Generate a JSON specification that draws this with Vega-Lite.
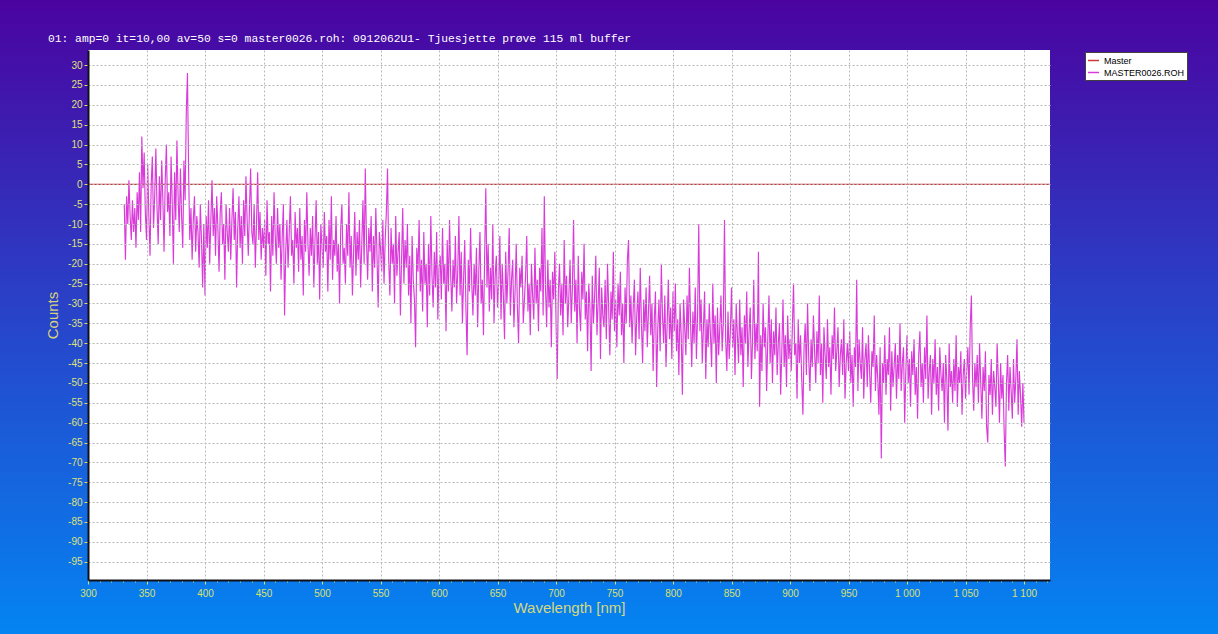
{
  "$schema": "https://vega.github.io/schema/vega-lite/v6.json",
  "width": 962,
  "height": 530,
  "autosize": {"type": "none"},
  "padding": {"left": 88, "top": 50, "right": 168, "bottom": 54},
  "background": "#2a40c8",
  "view": {
    "fill": null,
    "strokeWidth": 2600,
    "stroke": {
      "gradient": "linear",
      "x1": 0, "y1": -0.0943, "x2": 0, "y2": 1.1019,
      "stops": [
        {"offset": 0, "color": "#4b03a0"},
        {"offset": 1, "color": "#0484f2"}
      ]
    }
  },
  "title": {
    "text": "01: amp=0 it=10,00 av=50 s=0 master0026.roh: 0912062U1- Tjuesjette prøve 115 ml buffer",
    "anchor": "start",
    "frame": "group",
    "dx": -40,
    "offset": -3,
    "baseline": "alphabetic",
    "font": "Liberation Mono",
    "fontSize": 11.3,
    "fontWeight": "normal",
    "color": "#ffffff"
  },
  "config": {
    "axis": {"zindex": 1, "labelOverlap": false},
    "legend": {
      "orient": "none",
      "legendX": 997,
      "legendY": 2,
      "fillColor": "#ffffff",
      "strokeColor": "#404040",
      "padding": 2,
      "cornerRadius": 0,
      "labelFont": "Liberation Sans",
      "labelFontSize": 9,
      "labelColor": "#000000",
      "labelOffset": 4,
      "symbolType": "stroke",
      "symbolSize": 121,
      "symbolStrokeWidth": 1.5,
      "rowPadding": 0,
      "labelLimit": 200
    }
  },
  "encoding": {
    "x": {
      "field": "w",
      "type": "quantitative",
      "scale": {"domain": [300, 1122.2], "nice": false, "zero": false},
      "axis": {
        "zindex": 1,
        "values": [300,310,320,330,340,350,360,370,380,390,400,410,420,430,440,450,460,470,480,490,500,510,520,530,540,550,560,570,580,590,600,610,620,630,640,650,660,670,680,690,700,710,720,730,740,750,760,770,780,790,800,810,820,830,840,850,860,870,880,890,900,910,920,930,940,950,960,970,980,990,1000,1010,1020,1030,1040,1050,1060,1070,1080,1090,1100,1110,1120],
        "labelExpr": "datum.value % 50 === 0 ? replace(format(datum.value, ','), ',', ' ') : ''",
        "labelFlush": false,
        "grid": true,
        "gridColor": "#b8b8b8",
        "gridDash": [2, 2],
        "gridWidth": 1,
        "gridOpacity": {"condition": {"test": "datum.value % 50 !== 0", "value": 0}, "value": 1},
        "domainColor": "#101018",
        "domainWidth": 2,
        "tickColor": "#d8e070",
        "tickSize": {"condition": {"test": "datum.value % 50 !== 0", "value": 2}, "value": 4},
        "labelColor": "#d8e070",
        "labelFont": "Liberation Sans",
        "labelFontSize": 10,
        "labelPadding": 4,
        "title": "Wavelength [nm]",
        "titleColor": "#d4d880",
        "titleFont": "Liberation Sans",
        "titleFontSize": 15,
        "titleFontWeight": "normal",
        "titleBaseline": "middle",
        "titleY": 27
      }
    },
    "y": {
      "field": "c",
      "type": "quantitative",
      "scale": {"domain": [-99.6, 33.8], "nice": false, "zero": false},
      "axis": {
        "zindex": 1,
        "values": [30,25,20,15,10,5,0,-5,-10,-15,-20,-25,-30,-35,-40,-45,-50,-55,-60,-65,-70,-75,-80,-85,-90,-95],
        "labelExpr": "'' + datum.value",
        "grid": true,
        "gridColor": "#b8b8b8",
        "gridDash": [2, 2],
        "gridWidth": 1,
        "domainColor": "#101018",
        "domainWidth": 2,
        "tickColor": "#d8e070",
        "tickSize": 4,
        "labelColor": "#dfe07a",
        "labelFont": "Liberation Sans",
        "labelFontSize": 10,
        "labelPadding": 2,
        "title": "Counts",
        "titleColor": "#d8d080",
        "titleFont": "Liberation Sans",
        "titleFontSize": 15,
        "titleFontWeight": "normal",
        "titleAngle": 270,
        "titleBaseline": "middle",
        "titleAlign": "center",
        "titleX": -36,
        "titleY": 265
      }
    }
  },
  "layer": [
    {
      "data": {"values": [{}]},
      "mark": {"type": "rect", "fill": "#ffffff"},
      "encoding": {
        "x": {"value": 0},
        "x2": {"value": "width"},
        "y": {"value": 0},
        "y2": {"value": "height"}
      }
    },
    {
      "data": {"name": "master"},
      "mark": {"type": "line", "strokeWidth": 1.2, "clip": true},
      "encoding": {
        "color": {
          "datum": "Master",
          "scale": {"domain": ["Master", "MASTER0026.ROH"], "range": ["#cc3a3a", "#d93ad9"]},
          "legend": {"title": null}
        }
      }
    },
    {
      "data": {"name": "spec"},
      "mark": {"type": "line", "strokeWidth": 1.15, "clip": true},
      "encoding": {
        "color": {
          "datum": "MASTER0026.ROH",
          "scale": {"domain": ["Master", "MASTER0026.ROH"], "range": ["#cc3a3a", "#d93ad9"]},
          "legend": {"title": null}
        }
      }
    }
  ],
  "datasets": {
    "master": [{"w": 300, "c": 0}, {"w": 1122.2, "c": 0}],
    "spec": [
{"w":331,"c":-5},{"w":332,"c":-19},{"w":333,"c":-3},{"w":334,"c":-10},{"w":335,"c":1},{"w":336,"c":-8},{"w":337,"c":-14},{"w":338,"c":-4},{"w":339,"c":-12},{"w":340,"c":-6},
{"w":341,"c":-16},{"w":342,"c":-2},{"w":343,"c":-9},{"w":344,"c":3},{"w":345,"c":-12},{"w":346,"c":12},{"w":347,"c":-1},{"w":348,"c":8},{"w":349,"c":-7},{"w":350,"c":-14},
{"w":351,"c":5},{"w":352,"c":-8},{"w":353,"c":-18},{"w":354,"c":0},{"w":355,"c":7},{"w":356,"c":-11},{"w":357,"c":-3},{"w":358,"c":9},{"w":359,"c":-6},{"w":360,"c":-15},
{"w":361,"c":2},{"w":362,"c":-9},{"w":363,"c":6},{"w":364,"c":-4},{"w":365,"c":-17},{"w":366,"c":1},{"w":367,"c":10},{"w":368,"c":-7},{"w":369,"c":-2},{"w":370,"c":-13},
{"w":371,"c":7},{"w":372,"c":-5},{"w":373,"c":-20},{"w":374,"c":3},{"w":375,"c":-9},{"w":376,"c":11},{"w":377,"c":-3},{"w":378,"c":-12},{"w":379,"c":4},{"w":380,"c":-8},
{"w":381,"c":-16},{"w":382,"c":6},{"w":383,"c":-4},{"w":384,"c":18},{"w":385,"c":28},{"w":386,"c":3},{"w":387,"c":-14},{"w":388,"c":-6},{"w":389,"c":-19},{"w":390,"c":-9},
{"w":391,"c":-3},{"w":392,"c":-17},{"w":393,"c":-8},{"w":394,"c":-12},{"w":395,"c":-21},{"w":396,"c":-5},{"w":397,"c":-14},{"w":398,"c":-26},{"w":399,"c":-10},{"w":400,"c":-28},
{"w":401,"c":-8},{"w":402,"c":-16},{"w":403,"c":-4},{"w":404,"c":-20},{"w":405,"c":-9},{"w":406,"c":1},{"w":407,"c":-13},{"w":408,"c":-6},{"w":409,"c":-18},{"w":410,"c":-3},
{"w":411,"c":-11},{"w":412,"c":-22},{"w":413,"c":-7},{"w":414,"c":-2},{"w":415,"c":-15},{"w":416,"c":-10},{"w":417,"c":-24},{"w":418,"c":-5},{"w":419,"c":-12},{"w":420,"c":-17},
{"w":421,"c":-6},{"w":422,"c":-19},{"w":423,"c":-9},{"w":424,"c":-1},{"w":425,"c":-14},{"w":426,"c":-7},{"w":427,"c":-26},{"w":428,"c":-11},{"w":429,"c":-3},{"w":430,"c":-16},
{"w":431,"c":-8},{"w":432,"c":-20},{"w":433,"c":-4},{"w":434,"c":-13},{"w":435,"c":2},{"w":436,"c":-9},{"w":437,"c":-18},{"w":438,"c":-6},{"w":439,"c":4},{"w":440,"c":-12},
{"w":441,"c":-15},{"w":442,"c":-5},{"w":443,"c":-21},{"w":444,"c":-10},{"w":445,"c":3},{"w":446,"c":-14},{"w":447,"c":-7},{"w":448,"c":-19},{"w":449,"c":-11},{"w":450,"c":-16},
{"w":451,"c":-9},{"w":452,"c":-23},{"w":453,"c":-4},{"w":454,"c":-15},{"w":455,"c":-12},{"w":456,"c":-27},{"w":457,"c":-8},{"w":458,"c":-18},{"w":459,"c":-2},{"w":460,"c":-13},
{"w":461,"c":-20},{"w":462,"c":-6},{"w":463,"c":-16},{"w":464,"c":-10},{"w":465,"c":-24},{"w":466,"c":-13},{"w":467,"c":-5},{"w":468,"c":-33},{"w":469,"c":-17},{"w":470,"c":-9},
{"w":471,"c":-21},{"w":472,"c":-12},{"w":473,"c":-3},{"w":474,"c":-18},{"w":475,"c":-14},{"w":476,"c":-25},{"w":477,"c":-7},{"w":478,"c":-16},{"w":479,"c":-11},{"w":480,"c":-22},
{"w":481,"c":-6},{"w":482,"c":-19},{"w":483,"c":-13},{"w":484,"c":-28},{"w":485,"c":-9},{"w":486,"c":-17},{"w":487,"c":-2},{"w":488,"c":-15},{"w":489,"c":-23},{"w":490,"c":-11},
{"w":491,"c":-18},{"w":492,"c":-8},{"w":493,"c":-26},{"w":494,"c":-14},{"w":495,"c":-4},{"w":496,"c":-20},{"w":497,"c":-12},{"w":498,"c":-29},{"w":499,"c":-10},{"w":500,"c":-16},
{"w":501,"c":-21},{"w":502,"c":-7},{"w":503,"c":-17},{"w":504,"c":-13},{"w":505,"c":-27},{"w":506,"c":-9},{"w":507,"c":-19},{"w":508,"c":-3},{"w":509,"c":-24},{"w":510,"c":-14},
{"w":511,"c":-18},{"w":512,"c":-8},{"w":513,"c":-22},{"w":514,"c":-15},{"w":515,"c":-30},{"w":516,"c":-11},{"w":517,"c":-5},{"w":518,"c":-20},{"w":519,"c":-16},{"w":520,"c":-25},
{"w":521,"c":-10},{"w":522,"c":-18},{"w":523,"c":-2},{"w":524,"c":-21},{"w":525,"c":-13},{"w":526,"c":-28},{"w":527,"c":-17},{"w":528,"c":-7},{"w":529,"c":-23},{"w":530,"c":-12},
{"w":531,"c":-19},{"w":532,"c":-9},{"w":533,"c":-26},{"w":534,"c":-15},{"w":535,"c":-4},{"w":536,"c":-20},{"w":537,"c":4},{"w":538,"c":-14},{"w":539,"c":-24},{"w":540,"c":-11},
{"w":541,"c":-17},{"w":542,"c":-8},{"w":543,"c":-27},{"w":544,"c":-13},{"w":545,"c":-21},{"w":546,"c":-6},{"w":547,"c":-18},{"w":548,"c":-31},{"w":549,"c":-12},{"w":550,"c":-16},
{"w":551,"c":-22},{"w":552,"c":-9},{"w":553,"c":-25},{"w":554,"c":-14},{"w":555,"c":-7},{"w":556,"c":4},{"w":557,"c":-19},{"w":558,"c":-28},{"w":559,"c":-11},{"w":560,"c":-20},
{"w":561,"c":-15},{"w":562,"c":-30},{"w":563,"c":-8},{"w":564,"c":-23},{"w":565,"c":-17},{"w":566,"c":-12},{"w":567,"c":-33},{"w":568,"c":-19},{"w":569,"c":-6},{"w":570,"c":-25},
{"w":571,"c":-14},{"w":572,"c":-21},{"w":573,"c":-10},{"w":574,"c":-28},{"w":575,"c":-18},{"w":576,"c":-35},{"w":577,"c":-13},{"w":578,"c":-24},{"w":579,"c":-29},{"w":580,"c":-41},
{"w":581,"c":-16},{"w":582,"c":-22},{"w":583,"c":-9},{"w":584,"c":-27},{"w":585,"c":-19},{"w":586,"c":-32},{"w":587,"c":-12},{"w":588,"c":-25},{"w":589,"c":-20},{"w":590,"c":-36},
{"w":591,"c":-15},{"w":592,"c":-28},{"w":593,"c":-8},{"w":594,"c":-23},{"w":595,"c":-31},{"w":596,"c":-17},{"w":597,"c":-26},{"w":598,"c":-12},{"w":599,"c":-34},{"w":600,"c":-21},
{"w":601,"c":-18},{"w":602,"c":-29},{"w":603,"c":-11},{"w":604,"c":-25},{"w":605,"c":-20},{"w":606,"c":-37},{"w":607,"c":-14},{"w":608,"c":-27},{"w":609,"c":-9},{"w":610,"c":-23},
{"w":611,"c":-32},{"w":612,"c":-19},{"w":613,"c":-26},{"w":614,"c":-13},{"w":615,"c":-30},{"w":616,"c":-22},{"w":617,"c":-8},{"w":618,"c":-28},{"w":619,"c":-17},{"w":620,"c":-35},
{"w":621,"c":-24},{"w":622,"c":-14},{"w":623,"c":-31},{"w":624,"c":-43},{"w":625,"c":-19},{"w":626,"c":-27},{"w":627,"c":-11},{"w":628,"c":-25},{"w":629,"c":-33},{"w":630,"c":-20},
{"w":631,"c":-28},{"w":632,"c":-16},{"w":633,"c":-36},{"w":634,"c":-22},{"w":635,"c":-12},{"w":636,"c":-30},{"w":637,"c":-24},{"w":638,"c":-38},{"w":639,"c":-18},{"w":640,"c":-1},
{"w":641,"c":-26},{"w":642,"c":-15},{"w":643,"c":-32},{"w":644,"c":-21},{"w":645,"c":-29},{"w":646,"c":-10},{"w":647,"c":-35},{"w":648,"c":-23},{"w":649,"c":-18},{"w":650,"c":-31},
{"w":651,"c":-25},{"w":652,"c":-13},{"w":653,"c":-34},{"w":654,"c":-20},{"w":655,"c":-28},{"w":656,"c":-39},{"w":657,"c":-17},{"w":658,"c":-30},{"w":659,"c":-22},{"w":660,"c":-11},
{"w":661,"c":-33},{"w":662,"c":-24},{"w":663,"c":-19},{"w":664,"c":-36},{"w":665,"c":-27},{"w":666,"c":-15},{"w":667,"c":-31},{"w":668,"c":-40},{"w":669,"c":-21},{"w":670,"c":-26},
{"w":671,"c":-18},{"w":672,"c":-35},{"w":673,"c":-29},{"w":674,"c":-23},{"w":675,"c":-13},{"w":676,"c":-32},{"w":677,"c":-25},{"w":678,"c":-38},{"w":679,"c":-20},{"w":680,"c":-28},
{"w":681,"c":-34},{"w":682,"c":-16},{"w":683,"c":-30},{"w":684,"c":-24},{"w":685,"c":-37},{"w":686,"c":-21},{"w":687,"c":-27},{"w":688,"c":-11},{"w":689,"c":-33},{"w":690,"c":-3},
{"w":691,"c":-26},{"w":692,"c":-36},{"w":693,"c":-19},{"w":694,"c":-31},{"w":695,"c":-24},{"w":696,"c":-41},{"w":697,"c":-22},{"w":698,"c":-29},{"w":699,"c":-17},{"w":700,"c":-34},
{"w":701,"c":-49},{"w":702,"c":-27},{"w":703,"c":-20},{"w":704,"c":-33},{"w":705,"c":-25},{"w":706,"c":-38},{"w":707,"c":-14},{"w":708,"c":-30},{"w":709,"c":-23},{"w":710,"c":-36},
{"w":711,"c":-28},{"w":712,"c":-19},{"w":713,"c":-35},{"w":714,"c":-26},{"w":715,"c":-9},{"w":716,"c":-32},{"w":717,"c":-24},{"w":718,"c":-40},{"w":719,"c":-18},{"w":720,"c":-31},
{"w":721,"c":-37},{"w":722,"c":-22},{"w":723,"c":-29},{"w":724,"c":-15},{"w":725,"c":-34},{"w":726,"c":-27},{"w":727,"c":-42},{"w":728,"c":-25},{"w":729,"c":-31},{"w":730,"c":-47},
{"w":731,"c":-23},{"w":732,"c":-35},{"w":733,"c":-28},{"w":734,"c":-18},{"w":735,"c":-38},{"w":736,"c":-30},{"w":737,"c":-21},{"w":738,"c":-44},{"w":739,"c":-26},{"w":740,"c":-33},
{"w":741,"c":-36},{"w":742,"c":-24},{"w":743,"c":-39},{"w":744,"c":-20},{"w":745,"c":-31},{"w":746,"c":-43},{"w":747,"c":-27},{"w":748,"c":-34},{"w":749,"c":-17},{"w":750,"c":-37},
{"w":751,"c":-29},{"w":752,"c":-41},{"w":753,"c":-25},{"w":754,"c":-33},{"w":755,"c":-22},{"w":756,"c":-38},{"w":757,"c":-30},{"w":758,"c":-45},{"w":759,"c":-26},{"w":760,"c":-35},
{"w":761,"c":-19},{"w":762,"c":-14},{"w":763,"c":-36},{"w":764,"c":-28},{"w":765,"c":-40},{"w":766,"c":-31},{"w":767,"c":-24},{"w":768,"c":-43},{"w":769,"c":-33},{"w":770,"c":-27},
{"w":771,"c":-39},{"w":772,"c":-21},{"w":773,"c":-35},{"w":774,"c":-45},{"w":775,"c":-29},{"w":776,"c":-37},{"w":777,"c":-26},{"w":778,"c":-41},{"w":779,"c":-32},{"w":780,"c":-23},
{"w":781,"c":-38},{"w":782,"c":-30},{"w":783,"c":-47},{"w":784,"c":-34},{"w":785,"c":-27},{"w":786,"c":-51},{"w":787,"c":-36},{"w":788,"c":-29},{"w":789,"c":-42},{"w":790,"c":-20},
{"w":791,"c":-33},{"w":792,"c":-40},{"w":793,"c":-28},{"w":794,"c":-46},{"w":795,"c":-35},{"w":796,"c":-24},{"w":797,"c":-39},{"w":798,"c":-31},{"w":799,"c":-44},{"w":800,"c":-27},
{"w":801,"c":-37},{"w":802,"c":-25},{"w":803,"c":-42},{"w":804,"c":-34},{"w":805,"c":-48},{"w":806,"c":-30},{"w":807,"c":-38},{"w":808,"c":-53},{"w":809,"c":-29},{"w":810,"c":-36},
{"w":811,"c":-43},{"w":812,"c":-28},{"w":813,"c":-39},{"w":814,"c":-21},{"w":815,"c":-35},{"w":816,"c":-46},{"w":817,"c":-32},{"w":818,"c":-40},{"w":819,"c":-26},{"w":820,"c":-44},
{"w":821,"c":-33},{"w":822,"c":-10},{"w":823,"c":-37},{"w":824,"c":-29},{"w":825,"c":-45},{"w":826,"c":-36},{"w":827,"c":-27},{"w":828,"c":-49},{"w":829,"c":-34},{"w":830,"c":-41},
{"w":831,"c":-30},{"w":832,"c":-38},{"w":833,"c":-46},{"w":834,"c":-25},{"w":835,"c":-40},{"w":836,"c":-33},{"w":837,"c":-50},{"w":838,"c":-31},{"w":839,"c":-43},{"w":840,"c":-36},
{"w":841,"c":-28},{"w":842,"c":-42},{"w":843,"c":-35},{"w":844,"c":-9},{"w":845,"c":-39},{"w":846,"c":-47},{"w":847,"c":-32},{"w":848,"c":-44},{"w":849,"c":-37},{"w":850,"c":-26},
{"w":851,"c":-41},{"w":852,"c":-34},{"w":853,"c":-48},{"w":854,"c":-30},{"w":855,"c":-38},{"w":856,"c":-45},{"w":857,"c":-29},{"w":858,"c":-43},{"w":859,"c":-36},{"w":860,"c":-51},
{"w":861,"c":-33},{"w":862,"c":-40},{"w":863,"c":-27},{"w":864,"c":-46},{"w":865,"c":-37},{"w":866,"c":-31},{"w":867,"c":-49},{"w":868,"c":-39},{"w":869,"c":-24},{"w":870,"c":-44},
{"w":871,"c":-35},{"w":872,"c":-42},{"w":873,"c":-17},{"w":874,"c":-56},{"w":875,"c":-38},{"w":876,"c":-47},{"w":877,"c":-30},{"w":878,"c":-41},{"w":879,"c":-36},{"w":880,"c":-52},
{"w":881,"c":-39},{"w":882,"c":-28},{"w":883,"c":-45},{"w":884,"c":-34},{"w":885,"c":-50},{"w":886,"c":-37},{"w":887,"c":-43},{"w":888,"c":-31},{"w":889,"c":-48},{"w":890,"c":-40},
{"w":891,"c":-35},{"w":892,"c":-53},{"w":893,"c":-42},{"w":894,"c":-29},{"w":895,"c":-46},{"w":896,"c":-38},{"w":897,"c":-51},{"w":898,"c":-33},{"w":899,"c":-44},{"w":900,"c":-39},
{"w":901,"c":-47},{"w":902,"c":-36},{"w":903,"c":-25},{"w":904,"c":-43},{"w":905,"c":-40},{"w":906,"c":-54},{"w":907,"c":-34},{"w":908,"c":-45},{"w":909,"c":-38},{"w":910,"c":-49},
{"w":911,"c":-58},{"w":912,"c":-41},{"w":913,"c":-35},{"w":914,"c":-48},{"w":915,"c":-30},{"w":916,"c":-44},{"w":917,"c":-52},{"w":918,"c":-39},{"w":919,"c":-46},{"w":920,"c":-33},
{"w":921,"c":-42},{"w":922,"c":-50},{"w":923,"c":-37},{"w":924,"c":-45},{"w":925,"c":-28},{"w":926,"c":-48},{"w":927,"c":-40},{"w":928,"c":-55},{"w":929,"c":-36},{"w":930,"c":-43},
{"w":931,"c":-49},{"w":932,"c":-34},{"w":933,"c":-46},{"w":934,"c":-41},{"w":935,"c":-53},{"w":936,"c":-38},{"w":937,"c":-44},{"w":938,"c":-31},{"w":939,"c":-47},{"w":940,"c":-42},
{"w":941,"c":-36},{"w":942,"c":-51},{"w":943,"c":-43},{"w":944,"c":-39},{"w":945,"c":-48},{"w":946,"c":-34},{"w":947,"c":-54},{"w":948,"c":-45},{"w":949,"c":-40},{"w":950,"c":-47},
{"w":951,"c":-37},{"w":952,"c":-50},{"w":953,"c":-43},{"w":954,"c":-56},{"w":955,"c":-41},{"w":956,"c":-46},{"w":957,"c":-24},{"w":958,"c":-52},{"w":959,"c":-39},{"w":960,"c":-45},
{"w":961,"c":-49},{"w":962,"c":-36},{"w":963,"c":-54},{"w":964,"c":-44},{"w":965,"c":-40},{"w":966,"c":-51},{"w":967,"c":-38},{"w":968,"c":-47},{"w":969,"c":-55},{"w":970,"c":-42},
{"w":971,"c":-46},{"w":972,"c":-33},{"w":973,"c":-52},{"w":974,"c":-43},{"w":975,"c":-49},{"w":976,"c":-58},{"w":977,"c":-41},{"w":978,"c":-69},{"w":979,"c":-45},{"w":980,"c":-50},
{"w":981,"c":-38},{"w":982,"c":-53},{"w":983,"c":-44},{"w":984,"c":-48},{"w":985,"c":-36},{"w":986,"c":-57},{"w":987,"c":-42},{"w":988,"c":-51},{"w":989,"c":-46},{"w":990,"c":-40},
{"w":991,"c":-54},{"w":992,"c":-43},{"w":993,"c":-49},{"w":994,"c":-35},{"w":995,"c":-52},{"w":996,"c":-45},{"w":997,"c":-41},{"w":998,"c":-60},{"w":999,"c":-47},{"w":1000,"c":-38},
{"w":1001,"c":-50},{"w":1002,"c":-44},{"w":1003,"c":-56},{"w":1004,"c":-42},{"w":1005,"c":-48},{"w":1006,"c":-39},{"w":1007,"c":-53},{"w":1008,"c":-46},{"w":1009,"c":-59},{"w":1010,"c":-43},
{"w":1011,"c":-37},{"w":1012,"c":-51},{"w":1013,"c":-45},{"w":1014,"c":-55},{"w":1015,"c":-41},{"w":1016,"c":-49},{"w":1017,"c":-33},{"w":1018,"c":-54},{"w":1019,"c":-47},{"w":1020,"c":-43},
{"w":1021,"c":-58},{"w":1022,"c":-44},{"w":1023,"c":-50},{"w":1024,"c":-39},{"w":1025,"c":-53},{"w":1026,"c":-46},{"w":1027,"c":-57},{"w":1028,"c":-41},{"w":1029,"c":-48},{"w":1030,"c":-52},
{"w":1031,"c":-45},{"w":1032,"c":-60},{"w":1033,"c":-43},{"w":1034,"c":-49},{"w":1035,"c":-62},{"w":1036,"c":-40},{"w":1037,"c":-51},{"w":1038,"c":-47},{"w":1039,"c":-55},{"w":1040,"c":-44},
{"w":1041,"c":-52},{"w":1042,"c":-38},{"w":1043,"c":-56},{"w":1044,"c":-46},{"w":1045,"c":-50},{"w":1046,"c":-42},{"w":1047,"c":-58},{"w":1048,"c":-48},{"w":1049,"c":-44},{"w":1050,"c":-54},
{"w":1051,"c":-47},{"w":1052,"c":-41},{"w":1053,"c":-53},{"w":1054,"c":-36},{"w":1055,"c":-28},{"w":1056,"c":-49},{"w":1057,"c":-57},{"w":1058,"c":-45},{"w":1059,"c":-51},{"w":1060,"c":-43},
{"w":1061,"c":-55},{"w":1062,"c":-40},{"w":1063,"c":-50},{"w":1064,"c":-59},{"w":1065,"c":-46},{"w":1066,"c":-52},{"w":1067,"c":-42},{"w":1068,"c":-61},{"w":1069,"c":-65},{"w":1070,"c":-48},
{"w":1071,"c":-53},{"w":1072,"c":-44},{"w":1073,"c":-58},{"w":1074,"c":-47},{"w":1075,"c":-51},{"w":1076,"c":-56},{"w":1077,"c":-40},{"w":1078,"c":-49},{"w":1079,"c":-60},{"w":1080,"c":-45},
{"w":1081,"c":-54},{"w":1082,"c":-48},{"w":1083,"c":-62},{"w":1084,"c":-71},{"w":1085,"c":-50},{"w":1086,"c":-43},{"w":1087,"c":-57},{"w":1088,"c":-46},{"w":1089,"c":-52},{"w":1090,"c":-59},
{"w":1091,"c":-44},{"w":1092,"c":-55},{"w":1093,"c":-49},{"w":1094,"c":-39},{"w":1095,"c":-58},{"w":1096,"c":-47},{"w":1097,"c":-53},{"w":1098,"c":-61},{"w":1099,"c":-50},{"w":1100,"c":-60}
    ]
  }
}
